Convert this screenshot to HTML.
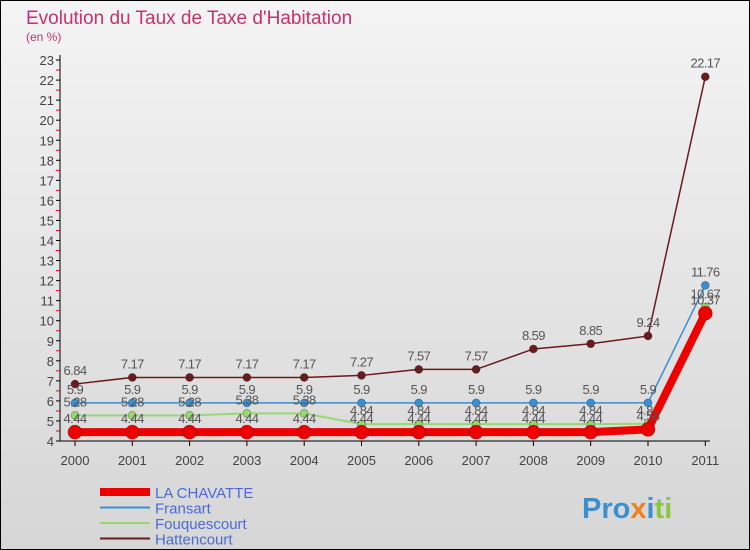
<!DOCTYPE html>
<html><head><meta charset="utf-8"><style>
body{margin:0;width:750px;height:550px;overflow:hidden;font-family:"Liberation Sans",sans-serif}
svg{display:block}
</style></head><body>
<svg width="750" height="550">
<defs><linearGradient id="bg" x1="0" y1="0" x2="0" y2="1"><stop offset="0" stop-color="#f4f4f4"/><stop offset="1" stop-color="#d6d6d6"/></linearGradient></defs>
<rect x="0.5" y="0.5" width="749" height="549" fill="url(#bg)" stroke="#000"/>
<text x="26" y="24" font-size="19" fill="#c8326e">Evolution du Taux de Taxe d'Habitation</text>
<text x="26" y="41" font-size="12" fill="#c8326e">(en %)</text>
<g id="axes"></g><g id="series"></g><g id="legend"></g>
<text x="582" y="518" font-size="29" font-weight="bold"><tspan fill="#3a8fd0">Pro</tspan><tspan fill="#f08020">x</tspan><tspan fill="#3a8fd0">i</tspan><tspan fill="#8cc63f">ti</tspan></text>
</svg>
<script>
const years=["2000","2001","2002","2003","2004","2005","2006","2007","2008","2009","2010","2011"];
const yTicks=[4,5,6,7,8,9,10,11,12,13,14,15,16,17,18,19,20,21,22,23];
const laChavatte=[4.44,4.44,4.44,4.44,4.44,4.44,4.44,4.44,4.44,4.44,4.58,10.37];
const fransart=[5.9,5.9,5.9,5.9,5.9,5.9,5.9,5.9,5.9,5.9,5.9,11.76];
const fouquescourt=[5.28,5.28,5.28,5.38,5.38,4.84,4.84,4.84,4.84,4.84,4.86,10.67];
const hattencourt=[6.84,7.17,7.17,7.17,7.17,7.27,7.57,7.57,8.59,8.85,9.24,22.17];
const NS="http://www.w3.org/2000/svg";
const X=i=>75+i*57.3, Y=v=>441-(v-4)*20.05;
function mk(tag,attrs,parent,txt){const e=document.createElementNS(NS,tag);for(const k in attrs)e.setAttribute(k,attrs[k]);if(txt!==undefined)e.textContent=txt;parent.appendChild(e);return e;}
const ax=document.getElementById('axes');
let l=mk('line',{x1:60,y1:55,x2:60,y2:441,stroke:'#000'},ax);


l=mk('line',{x1:60,y1:441,x2:710,y2:441,stroke:'#000'},ax);


yTicks.forEach(v=>{
  mk('line',{x1:56,y1:Y(v),x2:60,y2:Y(v),stroke:'#000'},ax);
  if(v<23)mk('line',{x1:56,y1:Y(v+0.5),x2:60,y2:Y(v+0.5),stroke:'#e00'},ax);
  const t=mk('text',{x:54,y:Y(v)+5,'font-size':13,'text-anchor':'end',fill:'#444'},ax,String(v));
  
  
});
years.forEach((y,i)=>{
  mk('line',{x1:X(i),y1:441,x2:X(i),y2:446,stroke:'#000'},ax);
  const t=mk('text',{x:X(i),y:465,'font-size':13,'text-anchor':'middle',fill:'#444'},ax,y);
  
  
});
const sg=document.getElementById('series');
function series(vals,color,w,r,name){
  const g=mk('g',{},sg);
  
  
  mk('polyline',{points:vals.map((v,i)=>X(i)+','+Y(v)).join(' '),fill:'none',stroke:color,'stroke-width':w},g);
  vals.forEach((v,i)=>{
    const c=mk('circle',{cx:X(i),cy:Y(v),r:r,fill:color,stroke:'rgba(0,0,0,0.3)','stroke-width':0.8},g);
    
    
    const t=mk('text',{x:X(i),y:Y(v)-9,'font-size':13,'text-anchor':'middle',fill:'#555','letter-spacing':'-0.6'},g,String(v));
    
    
  });
}
series(hattencourt,'#6b1a1e',1.5,4,'hattencourt');
series(fransart,'#3a8fd0',1.5,4,'fransart');
series(fouquescourt,'#98d870',2,4,'fouquescourt');
series(laChavatte,'#ee0000',8,7,'la-chavatte');
const lg=document.getElementById('legend');
const items=[["LA CHAVATTE","#ee0000",8],["Fransart","#3a8fd0",2],["Fouquescourt","#98d870",2],["Hattencourt","#6b1a1e",2]];
items.forEach((it,i)=>{
  const y=492+i*15.5;
  const g=mk('g',{},lg);
  
  
  mk('line',{x1:100,y1:y,x2:150,y2:y,stroke:it[1],'stroke-width':it[2]},g);
  mk('text',{x:155,y:y+6,'font-size':15,fill:'#4a6ad8'},g,it[0]);
});
</script>
</body></html>
